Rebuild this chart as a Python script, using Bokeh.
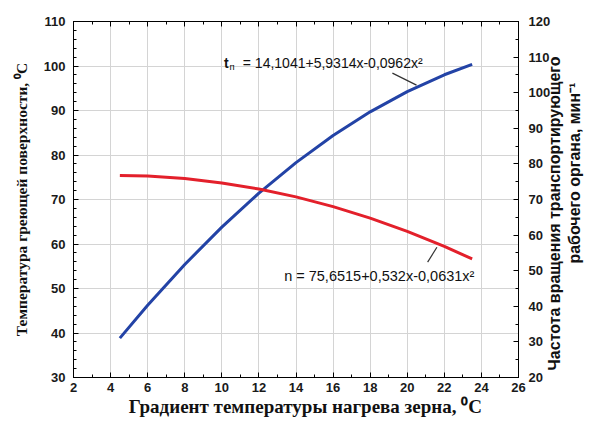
import math
from bokeh.plotting import figure
from bokeh.models import LinearAxis, Range1d, FixedTicker, Label
from bokeh.embed import file_html
from bokeh.resources import INLINE

# ---- data ----
x_gradient = [4.5, 6, 8, 10, 12, 14, 16, 18, 20, 22, 23.5]
t_surface = [38.85, 46.23, 55.40, 63.80, 71.43, 78.29, 84.38, 89.70, 94.25, 98.03, 100.37]
n_rotation = [76.77, 76.57, 75.87, 74.66, 72.95, 70.73, 68.01, 64.78, 61.05, 56.82, 53.31]

x_ticks = [2, 4, 6, 8, 10, 12, 14, 16, 18, 20, 22, 24, 26]
left_ticks = [30, 40, 50, 60, 70, 80, 90, 100, 110]
right_ticks = [20, 30, 40, 50, 60, 70, 80, 90, 100, 110, 120]

t_eq_text = "= 14,1041+5,9314x-0,0962x²"
n_eq_text = "n = 75,6515+0,532x-0,0631x²"
x_title = "Градиент температуры нагрева зерна, ⁰C"
left_title = "Температура греющей поверхности, ⁰C"
right_title_1 = "Частота вращения транспортирующего"
right_title_2 = "рабочего органа, мин⁻¹"

# leader lines (x0, y0, x1, y1) in data units
t_leader = [19.2, 98.4, 20.5, 95.7]
n_leader = [21.1, 52.4, 21.6, 56.6]

# anchors of the titles drawn outside the frame (axis units)
x_title_at = 14.5
right_title_1_start = 22
right_title_2_start = 52

BLUE = "#2343a6"
RED = "#e3202b"
TICK_FONT = "Liberation Sans"
INK = "#111111"

p = figure(width=594, height=419, output_backend="svg", toolbar_location=None,
           x_range=Range1d(2, 26), y_range=Range1d(30, 110),
           min_border_left=73, min_border_right=69, min_border_top=21, min_border_bottom=40)
p.extra_y_ranges = {"right": Range1d(20, 120)}

p.outline_line_color = "black"
p.outline_line_width = 1
p.background_fill_color = "white"
p.border_fill_color = "white"

# grid
p.xgrid.ticker = FixedTicker(ticks=x_ticks)
p.ygrid.ticker = FixedTicker(ticks=left_ticks)
p.xgrid.grid_line_color = "#d4d4d4"
p.ygrid.grid_line_color = "#d4d4d4"

def style_axis(ax, ticks, minor, show_labels=True, standoff=8):
    ax.ticker = FixedTicker(ticks=ticks, minor_ticks=minor)
    ax.axis_line_color = "black"
    ax.major_tick_line_color = "black"
    ax.minor_tick_line_color = "black"
    ax.major_tick_in = 5
    ax.major_tick_out = 0
    ax.minor_tick_in = 3
    ax.minor_tick_out = 0
    ax.major_label_standoff = standoff
    ax.major_label_text_font = TICK_FONT
    ax.major_label_text_font_style = "bold"
    ax.major_label_text_font_size = "13px"
    ax.major_label_text_color = "#1a1a1a"
    if not show_labels:
        ax.major_label_text_alpha = 0
        ax.major_label_text_font_size = "1px"

def text_axis(ax, tick, text, orientation, font, size, standoff):
    # an axis with no line and no ticks, used only to place one title text
    ax.ticker = FixedTicker(ticks=[tick], minor_ticks=[])
    ax.major_label_overrides = {tick: text}
    ax.axis_line_color = None
    ax.major_tick_line_color = None
    ax.minor_tick_line_color = None
    ax.major_tick_in = 0
    ax.major_tick_out = 0
    ax.minor_tick_in = 0
    ax.minor_tick_out = 0
    ax.major_label_orientation = orientation
    ax.major_label_standoff = standoff
    ax.major_label_text_font = font
    ax.major_label_text_font_style = "bold"
    ax.major_label_text_font_size = size
    ax.major_label_text_color = INK

x_minor = list(range(2, 27))
left_minor = list(range(30, 111, 2))
right_minor = list(range(20, 121, 5))

style_axis(p.xaxis[0], x_ticks, x_minor, standoff=5)
style_axis(p.yaxis[0], left_ticks, left_minor, standoff=8)

p.yaxis[0].axis_label = left_title
p.yaxis[0].axis_label_text_font = "Liberation Serif"
p.yaxis[0].axis_label_text_font_style = "bold"
p.yaxis[0].axis_label_text_font_size = "15.5px"
p.yaxis[0].axis_label_standoff = 11
p.yaxis[0].axis_label_text_color = INK

right_axis = LinearAxis(y_range_name="right")
style_axis(right_axis, right_ticks, right_minor, standoff=10)
p.add_layout(right_axis, "right")

top_axis = LinearAxis()
style_axis(top_axis, x_ticks, x_minor, show_labels=False)
p.add_layout(top_axis, "above")

# titles outside the frame
x_title_axis = LinearAxis()
text_axis(x_title_axis, x_title_at, x_title, "horizontal", "Liberation Serif", "19px", 1)
p.add_layout(x_title_axis, "below")

r1_axis = LinearAxis(y_range_name="right")
text_axis(r1_axis, right_title_1_start, right_title_1, math.pi / 2, "Liberation Sans", "16px", 1)
p.add_layout(r1_axis, "right")

r2_axis = LinearAxis(y_range_name="right")
text_axis(r2_axis, right_title_2_start, right_title_2, math.pi / 2, "Liberation Sans", "16px", 0)
p.add_layout(r2_axis, "right")

# curves
p.line(x_gradient, t_surface, line_color=BLUE, line_width=3)
p.line(x_gradient, n_rotation, line_color=RED, line_width=3, y_range_name="right")

# leader lines
p.segment(x0=[t_leader[0]], y0=[t_leader[1]], x1=[t_leader[2]], y1=[t_leader[3]],
          line_color="#333333", line_width=1.2)
p.segment(x0=[n_leader[0]], y0=[n_leader[1]], x1=[n_leader[2]], y1=[n_leader[3]],
          line_color="#333333", line_width=1.2, y_range_name="right")

# equations
EQ_FONT = "Liberation Sans"
p.add_layout(Label(x=10.12, y=100.6, text="t", text_font=EQ_FONT, text_font_style="bold",
                   text_font_size="14px", text_baseline="middle", text_color=INK))
p.add_layout(Label(x=10.42, y=99.9, text="п", text_font=EQ_FONT,
                   text_font_size="9.5px", text_baseline="middle", text_color=INK))
p.add_layout(Label(x=11.13, y=100.6, text=t_eq_text, text_font=EQ_FONT,
                   text_font_size="14px", text_baseline="middle", text_color=INK))
p.add_layout(Label(x=13.36, y=48.5, y_range_name="right", text=n_eq_text, text_font=EQ_FONT,
                   text_font_size="14.5px", text_baseline="middle", text_color=INK))

open("out.html", "w").write(file_html(p, INLINE))
